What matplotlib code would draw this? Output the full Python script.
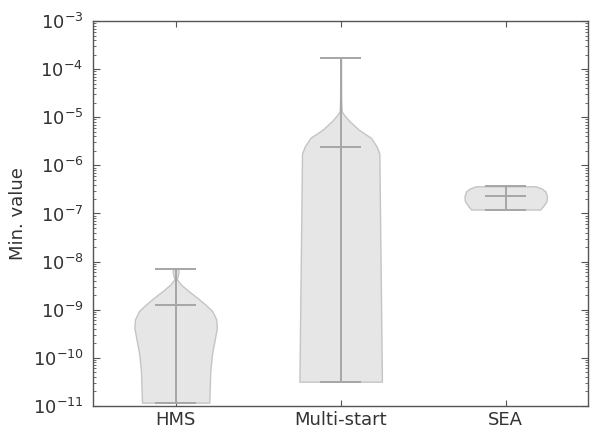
import numpy as np
import matplotlib
matplotlib.use('Agg')
import matplotlib.pyplot as plt

labels = ['HMS', 'Multi-start', 'SEA']

# summary values
mins = [1.17e-11, 3.2e-11, 1.21e-7]
medians = [1.26e-9, 2.37e-6, 2.29e-7]
maxs = [7.1e-9, 1.68e-4, 3.68e-7]

# violin outlines: log10 level and relative half width
hms_log = [-8.146, -8.20, -8.30, -8.368, -8.478, -8.617, -8.755, -8.892, -9.031,
           -9.203, -9.377, -9.653, -9.928, -10.275, -10.932]
hms_w = [0.04, 0.075, 0.05, 0.03, 0.13, 0.32, 0.53, 0.72, 0.89,
         0.985, 1.0, 0.94, 0.88, 0.84, 0.815]

ms_log = [-3.774, -4.60, -4.880, -4.95, -5.087, -5.259, -5.425, -5.605, -5.756,
          -7.5, -10.496]
ms_w = [0.01, 0.012, 0.025, 0.08, 0.22, 0.44, 0.73, 0.87, 0.937,
        0.96, 1.0]

sea_log = [-6.434, -6.48, -6.54, -6.64, -6.74, -6.82, -6.917]
sea_w = [0.72, 0.87, 0.96, 1.0, 0.99, 0.93, 0.84]

profiles = [(hms_log, hms_w), (ms_log, ms_w), (sea_log, sea_w)]

stats = []
for (lv, w), lo, md, hi in zip(profiles, mins, medians, maxs):
    coords = 10 ** np.array(lv)
    stats.append({'coords': coords, 'vals': np.array(w), 'mean': md,
                  'median': md, 'min': lo, 'max': hi})

fig = plt.figure(figsize=(5.93, 4.30), dpi=100)
ax = fig.add_axes([0.157, 0.056, 0.835, 0.895])

parts = ax.violin(stats, positions=[1, 2, 3], widths=0.5,
                  showmeans=False, showextrema=True, showmedians=True)
for b in parts['bodies']:
    b.set_facecolor('#e6e6e6')
    b.set_edgecolor('#c4c4c4')
    b.set_alpha(1)
    b.set_linewidth(1.0)
for key in ['cmins', 'cmaxes', 'cbars', 'cmedians']:
    parts[key].set_color('#a6a6a6')
    parts[key].set_linewidth(1.4)

ax.set_yscale('log')
ax.set_ylim(1e-11, 1e-3)
ax.set_xlim(0.5, 3.5)
ax.set_xticks([1, 2, 3])
ax.set_xticklabels(labels)
ax.set_ylabel('Min. value', fontsize=13, color='#333333', labelpad=4)

for s in ax.spines.values():
    s.set_color('#555555')
    s.set_linewidth(1.0)
ax.tick_params(axis='both', which='both', direction='in', top=True, right=True,
               colors='#555555', labelcolor='#333333', labelsize=13)
ax.tick_params(axis='y', which='major', length=5, pad=7)
ax.tick_params(axis='y', which='minor', length=2.5)
ax.tick_params(axis='x', which='major', length=4, pad=4)
ax.tick_params(axis='x', which='minor', bottom=False, top=False)

plt.savefig('out.png', dpi=100)
